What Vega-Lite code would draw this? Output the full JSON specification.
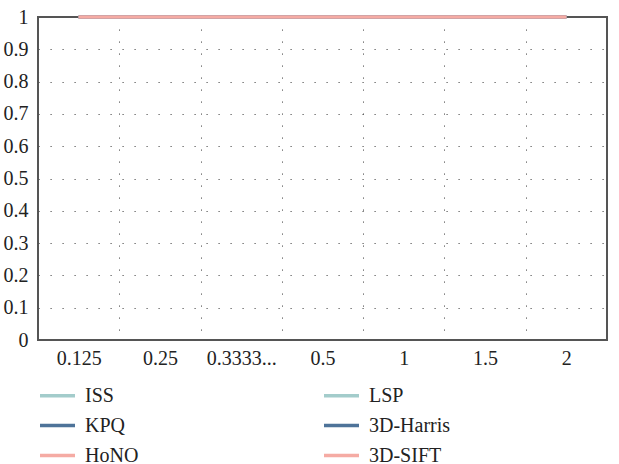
{
  "$schema": "https://vega.github.io/schema/vega-lite/v6.json",
  "width": 569,
  "height": 323,
  "autosize": "none",
  "padding": {"left": 38, "top": 17, "right": 12, "bottom": 124},
  "config": {
    "font": "Liberation Serif",
    "view": {"stroke": "#555555", "strokeWidth": 2},
    "legend": {"padding": 0}
  },
  "data": {
    "values": [
      {"scale": "0.125", "detector": "ISS", "value": 1},
      {"scale": "0.25", "detector": "ISS", "value": 1},
      {"scale": "0.3333...", "detector": "ISS", "value": 1},
      {"scale": "0.5", "detector": "ISS", "value": 1},
      {"scale": "1", "detector": "ISS", "value": 1},
      {"scale": "1.5", "detector": "ISS", "value": 1},
      {"scale": "2", "detector": "ISS", "value": 1},
      {"scale": "0.125", "detector": "LSP", "value": 1},
      {"scale": "0.25", "detector": "LSP", "value": 1},
      {"scale": "0.3333...", "detector": "LSP", "value": 1},
      {"scale": "0.5", "detector": "LSP", "value": 1},
      {"scale": "1", "detector": "LSP", "value": 1},
      {"scale": "1.5", "detector": "LSP", "value": 1},
      {"scale": "2", "detector": "LSP", "value": 1},
      {"scale": "0.125", "detector": "KPQ", "value": 1},
      {"scale": "0.25", "detector": "KPQ", "value": 1},
      {"scale": "0.3333...", "detector": "KPQ", "value": 1},
      {"scale": "0.5", "detector": "KPQ", "value": 1},
      {"scale": "1", "detector": "KPQ", "value": 1},
      {"scale": "1.5", "detector": "KPQ", "value": 1},
      {"scale": "2", "detector": "KPQ", "value": 1},
      {"scale": "0.125", "detector": "3D-Harris", "value": 1},
      {"scale": "0.25", "detector": "3D-Harris", "value": 1},
      {"scale": "0.3333...", "detector": "3D-Harris", "value": 1},
      {"scale": "0.5", "detector": "3D-Harris", "value": 1},
      {"scale": "1", "detector": "3D-Harris", "value": 1},
      {"scale": "1.5", "detector": "3D-Harris", "value": 1},
      {"scale": "2", "detector": "3D-Harris", "value": 1},
      {"scale": "0.125", "detector": "HoNO", "value": 1},
      {"scale": "0.25", "detector": "HoNO", "value": 1},
      {"scale": "0.3333...", "detector": "HoNO", "value": 1},
      {"scale": "0.5", "detector": "HoNO", "value": 1},
      {"scale": "1", "detector": "HoNO", "value": 1},
      {"scale": "1.5", "detector": "HoNO", "value": 1},
      {"scale": "2", "detector": "HoNO", "value": 1},
      {"scale": "0.125", "detector": "3D-SIFT", "value": 1},
      {"scale": "0.25", "detector": "3D-SIFT", "value": 1},
      {"scale": "0.3333...", "detector": "3D-SIFT", "value": 1},
      {"scale": "0.5", "detector": "3D-SIFT", "value": 1},
      {"scale": "1", "detector": "3D-SIFT", "value": 1},
      {"scale": "1.5", "detector": "3D-SIFT", "value": 1},
      {"scale": "2", "detector": "3D-SIFT", "value": 1}
    ]
  },
  "mark": {"type": "line", "strokeWidth": 3},
  "encoding": {
    "x": {
      "field": "scale",
      "type": "nominal",
      "sort": ["0.125", "0.25", "0.3333...", "0.5", "1", "1.5", "2"],
      "scale": {"type": "band", "paddingInner": 0, "paddingOuter": 0},
      "bandPosition": 0.5,
      "axis": {
        "title": null,
        "labelAngle": 0,
        "tickBand": "extent",
        "grid": true,
        "gridDash": [1.2, 10.8],
        "gridColor": "#555555",
        "gridWidth": 1,
        "ticks": false,
        "domain": false,
        "labelFontSize": 20,
        "labelColor": "#222222",
        "labelPadding": 8
      }
    },
    "y": {
      "field": "value",
      "type": "quantitative",
      "scale": {"domain": [0, 1], "nice": false, "zero": true},
      "axis": {
        "title": null,
        "values": [0, 0.1, 0.2, 0.3, 0.4, 0.5, 0.6, 0.7, 0.8, 0.9, 1],
        "format": "~g",
        "grid": true,
        "gridDash": [1.2, 10.8],
        "gridColor": "#555555",
        "gridWidth": 1,
        "ticks": false,
        "domain": false,
        "labelFontSize": 20,
        "labelColor": "#222222",
        "labelPadding": 10
      }
    },
    "color": {
      "field": "detector",
      "type": "nominal",
      "scale": {
        "domain": ["ISS", "LSP", "KPQ", "3D-Harris", "HoNO", "3D-SIFT"],
        "range": ["#a3cccb", "#a3cccb", "#4e7399", "#4e7399", "#f5aba4", "#f5aba4"]
      },
      "legend": {
        "title": null,
        "orient": "none",
        "legendX": 0,
        "legendY": 359,
        "columns": 2,
        "direction": "horizontal",
        "symbolType": "stroke",
        "symbolSize": 1225,
        "symbolStrokeWidth": 3.5,
        "labelFontSize": 20,
        "labelColor": "#222222",
        "labelOffset": 8,
        "columnPadding": 178,
        "rowPadding": -12
      }
    }
  }
}
